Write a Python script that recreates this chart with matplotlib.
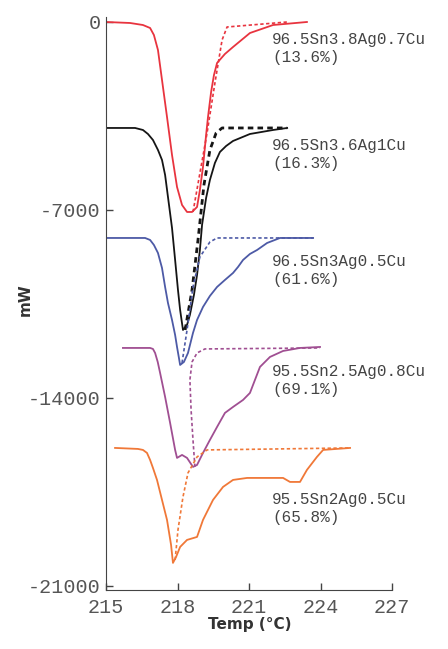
import matplotlib.pyplot as plt

plt.rcParams['axes.unicode_minus'] = False

# DSC curves, temperature (°C) vs heat flow (mW), one solid + one dashed trace per alloy
alloys = ['96.5Sn3.8Ag0.7Cu', '96.5Sn3.6Ag1Cu', '96.5Sn3Ag0.5Cu', '95.5Sn2.5Ag0.8Cu', '95.5Sn2Ag0.5Cu']
fractions = ['(13.6%)', '(16.3%)', '(61.6%)', '(69.1%)', '(65.8%)']
colors = ['#e8343f', '#151515', '#4d5aa6', '#a04f92', '#f07838']
label_y = [-1005, -4952, -9270, -13366, -18131]

red_t = [215.0, 216.01, 216.55, 216.85, 217.01, 217.18, 217.35, 217.56, 217.77, 217.98, 218.19, 218.40, 218.61, 218.82, 218.94,
         219.07, 219.20, 219.28, 219.41, 219.53, 219.66, 219.99, 220.33, 221.04, 222.01, 223.43]
red_w = [0, -37, -112, -223, -484, -1042, -2159, -3537, -4952, -6143, -6813, -7074, -7074, -6888, -6255,
         -5398, -4207, -3537, -2606, -1973, -1526, -1191, -931, -410, -112, 0]
red_dt = [218.65, 219.24, 219.57, 219.87, 220.08, 222.60]
red_dw = [-7074, -4133, -2271, -670, -186, 0]

blk_t = [215.0, 216.22, 216.55, 216.76, 216.97, 217.18, 217.35, 217.48, 217.60, 217.77, 217.90, 218.02, 218.11, 218.23, 218.40,
         218.52, 218.69, 218.82, 218.94, 219.03, 219.20, 219.36, 219.57, 219.78, 220.04, 220.33, 221.04, 222.01, 222.60]
blk_w = [-3946, -3946, -4021, -4170, -4393, -4765, -5138, -5696, -6515, -7669, -8861, -9978, -10722, -11467, -11281,
         -10908, -10164, -9419, -8488, -7558, -6552, -5882, -5249, -4840, -4617, -4430, -4170, -4021, -3946]
blk_dt = [218.32, 218.61, 218.86, 219.11, 219.36, 219.62, 219.87, 222.60]
blk_dw = [-11467, -9978, -8116, -6068, -4765, -4133, -3946, -3946]

blu_t = [215.0, 216.64, 216.85, 217.01, 217.18, 217.35, 217.48, 217.60, 217.77, 217.90, 217.98, 218.06, 218.11, 218.27, 218.44,
         218.65, 218.82, 219.07, 219.36, 219.66, 219.99, 220.33, 220.54, 220.75, 221.04, 221.34, 221.76, 222.30, 223.69]
blu_w = [-8042, -8042, -8116, -8302, -8600, -9159, -9866, -10462, -11095, -11653, -12100, -12509, -12770, -12658, -12323,
         -11578, -11095, -10611, -10201, -9866, -9605, -9345, -9121, -8861, -8637, -8489, -8228, -8042, -8042]
blu_dt = [218.19, 218.40, 218.65, 218.94, 219.36, 219.66, 223.69]
blu_dw = [-12695, -11467, -9866, -8749, -8191, -8042, -8042]

pur_t = [215.71, 216.85, 216.97, 217.06, 217.17, 217.27, 217.48, 217.69, 217.90, 217.98, 218.19, 218.40, 218.65, 218.82, 219.07,
         219.36, 219.66, 219.99, 220.33, 220.75, 221.04, 221.25, 221.46, 221.88, 222.43, 223.14, 223.98]
pur_w = [-12137, -12137, -12174, -12323, -12658, -13068, -13961, -14929, -15934, -16232, -16121, -16232, -16567, -16493, -16046,
         -15562, -15078, -14557, -14334, -14073, -13812, -13328, -12844, -12472, -12249, -12137, -12100]
pur_dt = [218.73, 218.65, 218.57, 218.52, 218.61, 218.82, 219.15, 223.98]
pur_dw = [-16567, -15562, -14445, -13328, -12658, -12323, -12174, -12137]

org_t = [215.38, 216.34, 216.55, 216.72, 216.85, 216.97, 217.14, 217.35, 217.56, 217.73, 217.81, 217.94, 218.11, 218.40, 218.82,
         219.07, 219.49, 219.91, 220.33, 220.92, 222.43, 222.72, 223.14, 223.43, 223.85, 224.11, 225.24]
org_w = [-15860, -15897, -15934, -16046, -16307, -16604, -17051, -17796, -18540, -19471, -20141, -19918, -19546, -19285, -19174,
         -18540, -17796, -17312, -17051, -16977, -16977, -17126, -17126, -16679, -16195, -15934, -15860]
org_dt = [217.90, 218.02, 218.23, 218.44, 218.82, 219.24, 225.24]
org_dw = [-20030, -18913, -17684, -16791, -16195, -15934, -15860]

solid = [(red_t, red_w), (blk_t, blk_w), (blu_t, blu_w), (pur_t, pur_w), (org_t, org_w)]
dashed = [(red_dt, red_dw), (blk_dt, blk_dw), (blu_dt, blu_dw), (pur_dt, pur_dw), (org_dt, org_dw)]

fig = plt.figure(figsize=(4.48, 6.49), dpi=100)
ax = fig.add_axes([106 / 448, 1 - 590 / 649, 286 / 448, 573 / 649])

for i in range(len(alloys)):
    ax.plot(solid[i][0], solid[i][1], color=colors[i], lw=1.3)
    dash_lw = 2.0 if i == 1 else 1.2
    ax.plot(dashed[i][0], dashed[i][1], color=colors[i], lw=dash_lw, ls=(0, (2, 1.5)))
    ax.text(221.97, label_y[i], alloys[i] + '\n' + fractions[i], family='Liberation Mono', fontsize=11.5,
            color='#444444', va='center', ha='left', linespacing=1.25, clip_on=False)

ax.set_xlim(215, 227)
ax.set_ylim(-21150, 186)
ax.set_xticks([215, 218, 221, 224, 227])
ax.set_yticks([0, -7000, -14000, -21000])
ax.tick_params(direction='in', length=5, width=1, color='#444444', labelcolor='#555555')
ax.tick_params(axis='x', pad=6)
ax.tick_params(axis='y', pad=4)
for lab in ax.get_xticklabels() + ax.get_yticklabels():
    lab.set_family('Liberation Mono')
    lab.set_fontsize(14.5)

ax.spines['top'].set_visible(False)
ax.spines['right'].set_visible(False)
ax.spines['left'].set_color('#444444')
ax.spines['bottom'].set_color('#444444')

fig.text(250 / 448, 1 - 624 / 649, 'Temp (°C)', ha='center', va='center', fontsize=11, fontweight='bold', color='#333333')
fig.text(25 / 448, 1 - 300 / 649, 'mW', ha='center', va='center', rotation=90, fontsize=11, fontweight='bold', color='#333333')

plt.savefig('out.png', dpi=100)
